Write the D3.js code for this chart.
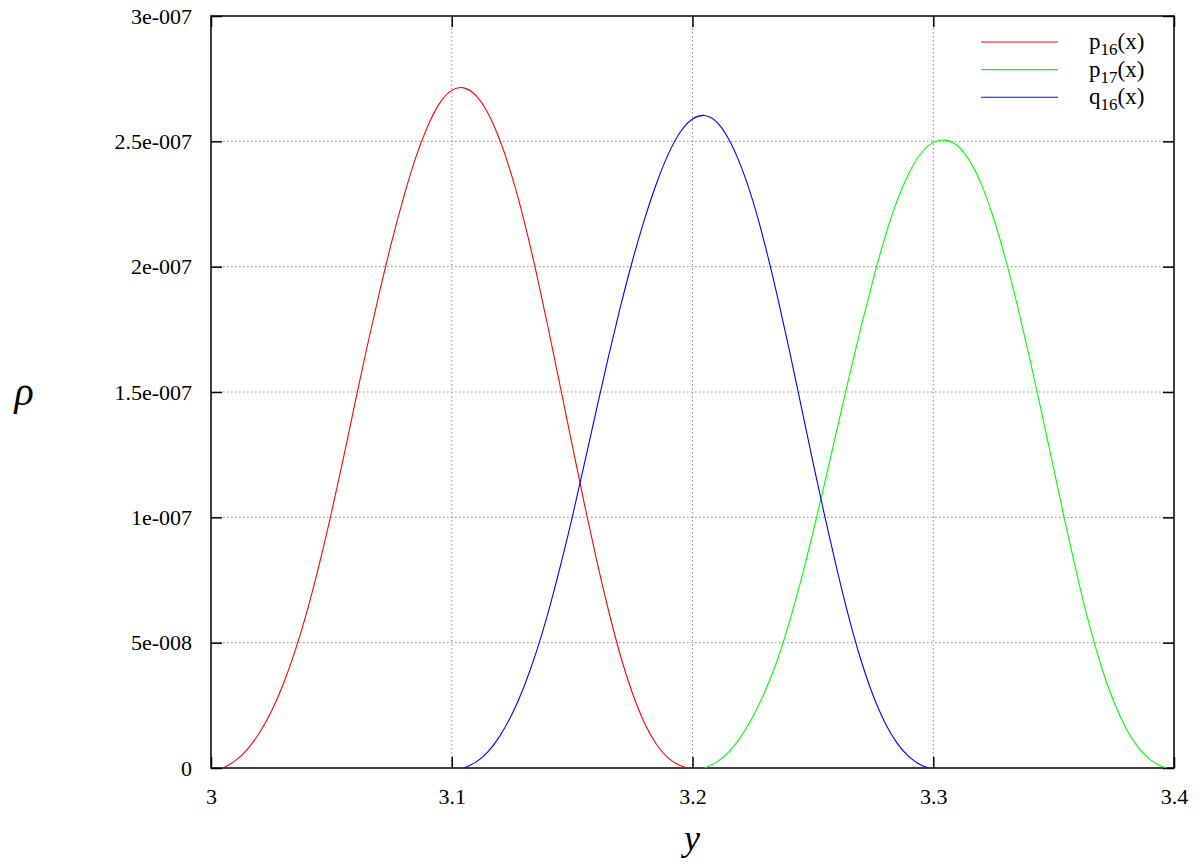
<!DOCTYPE html>
<html lang="en">
<head>
  <meta charset="UTF-8">
  <title>p16, p17, q16</title>
  <script src="https://cdn.jsdelivr.net/npm/d3@7"></script>
  <style>
    body { margin: 0; background: #fff; }
    svg { display: block; }
    text { font-family: "Liberation Serif", "DejaVu Serif", serif; fill: #000; }
  </style>
</head>
<body>
  <svg id="chart" width="1200" height="864"></svg>
  <script>
    // values are in units of 1e-7
    const p16X = [3.005, 3.010, 3.015, 3.020, 3.025, 3.030, 3.035, 3.040, 3.045, 3.050, 3.055, 3.060, 3.065, 3.070, 3.075, 3.080, 3.085, 3.090, 3.095, 3.100, 3.105, 3.110, 3.115, 3.120, 3.125, 3.130, 3.135, 3.140, 3.145, 3.150, 3.155, 3.160, 3.165, 3.170, 3.175, 3.180, 3.185, 3.190, 3.195, 3.198];
    const p16Y = [0, 0.025, 0.07, 0.135, 0.22, 0.33, 0.465, 0.625, 0.81, 1.015, 1.235, 1.465, 1.69, 1.90, 2.10, 2.28, 2.44, 2.565, 2.66, 2.71, 2.72, 2.69, 2.62, 2.51, 2.365, 2.19, 1.985, 1.76, 1.525, 1.29, 1.055, 0.835, 0.63, 0.445, 0.295, 0.175, 0.09, 0.035, 0.007, 0];

    const q16X = [3.105, 3.110, 3.115, 3.120, 3.125, 3.130, 3.135, 3.140, 3.145, 3.150, 3.155, 3.160, 3.165, 3.170, 3.175, 3.180, 3.185, 3.190, 3.195, 3.200, 3.205, 3.210, 3.215, 3.220, 3.225, 3.230, 3.235, 3.240, 3.245, 3.250, 3.255, 3.260, 3.265, 3.270, 3.275, 3.280, 3.285, 3.290, 3.295, 3.298];
    const q16Y = [0, 0.02, 0.06, 0.125, 0.21, 0.32, 0.455, 0.615, 0.80, 0.995, 1.21, 1.425, 1.64, 1.84, 2.025, 2.19, 2.335, 2.455, 2.545, 2.595, 2.61, 2.585, 2.515, 2.41, 2.27, 2.095, 1.895, 1.68, 1.45, 1.22, 1.00, 0.79, 0.595, 0.425, 0.285, 0.175, 0.095, 0.04, 0.01, 0];

    const p17X = [3.205, 3.210, 3.215, 3.220, 3.225, 3.230, 3.235, 3.240, 3.245, 3.250, 3.255, 3.260, 3.265, 3.270, 3.275, 3.280, 3.285, 3.290, 3.295, 3.300, 3.305, 3.310, 3.315, 3.320, 3.325, 3.330, 3.335, 3.340, 3.345, 3.350, 3.355, 3.360, 3.365, 3.370, 3.375, 3.380, 3.385, 3.390, 3.395, 3.397];
    const p17Y = [0, 0.02, 0.06, 0.12, 0.20, 0.30, 0.42, 0.57, 0.745, 0.935, 1.14, 1.35, 1.56, 1.76, 1.95, 2.125, 2.27, 2.38, 2.46, 2.50, 2.51, 2.49, 2.43, 2.335, 2.20, 2.035, 1.845, 1.64, 1.42, 1.195, 0.97, 0.755, 0.56, 0.395, 0.26, 0.155, 0.08, 0.03, 0.005, 0];

    const xTicks = [3, 3.1, 3.2, 3.3, 3.4];
    const xTickLabels = ["3", "3.1", "3.2", "3.3", "3.4"];
    const yTicks = [0, 0.5, 1, 1.5, 2, 2.5, 3];
    const yTickLabels = ["0", "5e-008", "1e-007", "1.5e-007", "2e-007", "2.5e-007", "3e-007"];

    const seriesNames = ["p16", "p17", "q16"];
    const seriesColors = ["#ff0000", "#00ff00", "#0000ff"];

    const svg = d3.select("#chart");
    const mLeft = 211, mRight = 1174, mTop = 16, mBottom = 768;

    const x = d3.scaleLinear().domain([3, 3.4]).range([mLeft, mRight]);
    const y = d3.scaleLinear().domain([0, 3]).range([mBottom, mTop]);

    // grid
    const grid = svg.append("g")
      .attr("stroke", "#888")
      .attr("stroke-width", 1)
      .attr("stroke-dasharray", "1.5,2.5");
    grid.selectAll(".gx")
      .data(xTicks.slice(1, -1))
      .join("line")
        .attr("class", "gx")
        .attr("x1", d => x(d)).attr("x2", d => x(d))
        .attr("y1", mTop).attr("y2", mBottom);
    grid.selectAll(".gy")
      .data(yTicks.slice(1, -1))
      .join("line")
        .attr("class", "gy")
        .attr("y1", d => y(d)).attr("y2", d => y(d))
        .attr("x1", mLeft).attr("x2", mRight);

    // axes with inward ticks, mirrored
    const tickLen = 11;
    const fmtX = (d, i) => xTickLabels[i];
    const fmtY = (d, i) => yTickLabels[i];

    svg.append("g")
      .attr("transform", `translate(0,${mBottom})`)
      .call(d3.axisBottom(x).tickValues(xTicks).tickFormat(fmtX).tickSizeInner(-tickLen).tickSizeOuter(0).tickPadding(20));
    svg.append("g")
      .attr("transform", `translate(${mLeft},0)`)
      .call(d3.axisLeft(y).tickValues(yTicks).tickFormat(fmtY).tickSizeInner(-tickLen).tickSizeOuter(0).tickPadding(19));
    svg.append("g")
      .attr("transform", `translate(0,${mTop})`)
      .call(d3.axisTop(x).tickValues(xTicks).tickFormat("").tickSizeInner(-tickLen).tickSizeOuter(0));
    svg.append("g")
      .attr("transform", `translate(${mRight},0)`)
      .call(d3.axisRight(y).tickValues(yTicks).tickFormat("").tickSizeInner(-tickLen).tickSizeOuter(0));

    svg.selectAll(".domain").remove();
    svg.selectAll(".tick line").attr("stroke", "#000").attr("stroke-width", 1.5);
    svg.selectAll(".tick text")
      .style("font-family", "'Liberation Serif', serif")
      .style("font-size", "22px")
      .attr("fill", "#000");

    // frame
    svg.append("rect")
      .attr("x", mLeft).attr("y", mTop)
      .attr("width", mRight - mLeft).attr("height", mBottom - mTop)
      .attr("fill", "none").attr("stroke", "#000").attr("stroke-width", 1.5);

    // curves
    const series = [
      { xs: p16X, ys: p16Y },
      { xs: p17X, ys: p17Y },
      { xs: q16X, ys: q16Y }
    ];
    const line = d3.line()
      .x(d => x(d[0]))
      .y(d => y(d[1]))
      .curve(d3.curveBasis);

    svg.append("g").selectAll("path")
      .data(series)
      .join("path")
        .attr("d", s => line(s.xs.map((v, i) => [v, s.ys[i]])))
        .attr("fill", "none")
        .attr("stroke", (s, i) => seriesColors[i])
        .attr("stroke-width", 1.1);

    // legend
    const key = svg.append("g");
    const keyRow = key.selectAll("g")
      .data(seriesNames)
      .join("g")
        .attr("transform", (d, i) => `translate(0,${42 + i * 27.6})`);
    keyRow.append("line")
      .attr("x1", 981).attr("x2", 1058)
      .attr("stroke", (d, i) => seriesColors[i])
      .attr("stroke-width", 1.1);
    const keyText = keyRow.append("text")
      .attr("x", 1089)
      .attr("y", 7)
      .style("font-size", "23px");
    keyText.append("tspan").text(d => d[0]);
    keyText.append("tspan").attr("dy", 6).style("font-size", "17px").text(d => d.slice(1));
    keyText.append("tspan").attr("dy", -6).text("(x)");

    // axis titles
    svg.append("text")
      .attr("x", 692).attr("y", 850)
      .attr("text-anchor", "middle")
      .style("font-size", "36px")
      .style("font-style", "italic")
      .text("y");
    svg.append("text")
      .attr("x", 24).attr("y", 405)
      .attr("text-anchor", "middle")
      .style("font-size", "40px")
      .style("font-style", "italic")
      .text("ρ");
  </script>
</body>
</html>
